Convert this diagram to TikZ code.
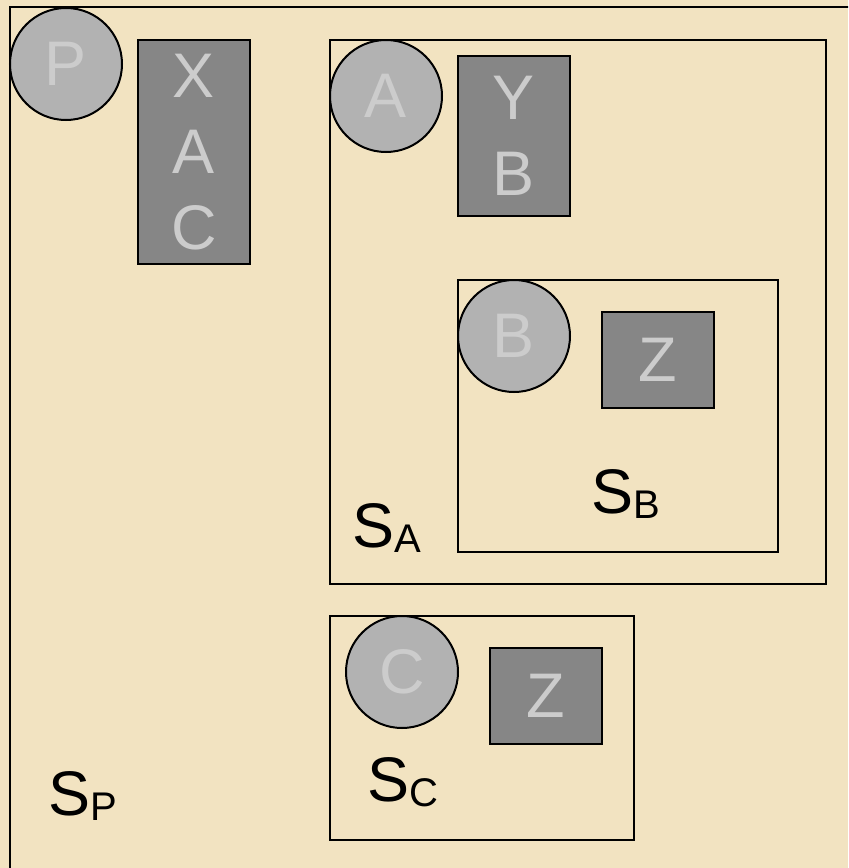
\documentclass[tikz,border=0pt]{standalone}
\usepackage{fontspec}
\setmainfont{Liberation Sans}
\usepackage{tikz}
\usetikzlibrary{positioning}
\definecolor{parchment}{RGB}{242,227,193}
\definecolor{disc}{RGB}{178,178,178}
\definecolor{slab}{RGB}{134,134,134}
\definecolor{ink}{RGB}{204,204,204}
\newcommand{\scopelabel}[2]{#1{\fontsize{20}{22}\selectfont\raisebox{-2.5pt}{#2}}}

\begin{document}
\begin{tikzpicture}[x=0.5pt, y=-0.5pt]
    \tikzset{proc/.style = {shape=circle, draw, line width=1pt, fill=disc, text=ink, minimum size=56pt, inner sep=0pt, font=\fontsize{31.5}{38}\selectfont}}
    \tikzset{vars/.style = {shape=rectangle, draw, line width=1pt, fill=slab, text=ink, minimum width=56pt, inner sep=0pt, align=center, font=\fontsize{31.5}{38}\selectfont}}
    \tikzset{scopebox/.style = {shape=rectangle, draw, line width=1pt, inner sep=0pt}}
    \tikzset{scopename/.style = {anchor=base west, inner sep=0pt, font=\fontsize{31.5}{38}\selectfont}}

    % background
    \fill[parchment] (0,0) rectangle (848,868);
    \useasboundingbox (0,0) rectangle (848,868);
    \clip (0,0) rectangle (848,868);

    % scopes
    \node[scopebox, minimum width=430pt, minimum height=440pt] (SP) at (440,447) {};
    \node[scopebox, minimum width=248pt, minimum height=272pt] (SA) at (578,312) {};
    \node[scopebox, minimum width=160pt, minimum height=136pt] (SB) at (618,416) {};
    \node[scopebox, minimum width=152pt, minimum height=112pt] (SC) at (482,728) {};

    % processes
    \node[proc] (P) at (66,64) {P};
    \node[proc] (A) at (386,96) {A};
    \node[proc] (B) at (514,336) {B};
    \node[proc] (C) at (402,672) {C};

    % variables
    \node[vars, minimum height=112pt] (XAC) at (194,152) {X\\A\\C};
    \node[vars, minimum height=80pt] (YB) at (514,136) {Y\\B};
    \node[vars, minimum height=48pt] (ZB) at (658,360) {Z};
    \node[vars, minimum height=48pt] (ZC) at (546,696) {Z};

    % names
    \node[scopename] (nP) at (48,815) {\scopelabel{S}{P}};
    \node[scopename] (nA) at (352,547) {\scopelabel{S}{A}};
    \node[scopename] (nB) at (591,513) {\scopelabel{S}{B}};
    \node[scopename] (nC) at (367,801) {\scopelabel{S}{C}};
\end{tikzpicture}
\end{document}
